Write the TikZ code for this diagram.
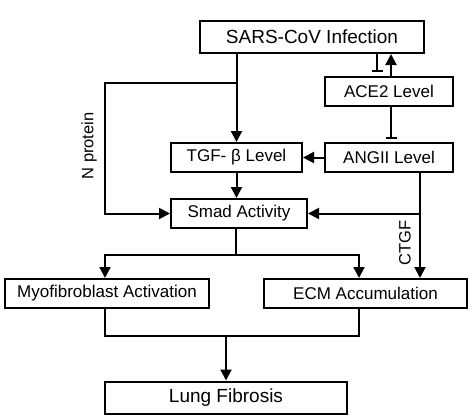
\documentclass[tikz,border=0pt]{standalone}
\usepackage{fontspec}
\setmainfont{Liberation Sans}
\usetikzlibrary{arrows.meta, positioning}

\tikzset{
  box/.style={draw, line width=2pt, rectangle, inner sep=0pt,
    minimum height=29pt, font=\fontsize{17}{20}\selectfont},
  bigbox/.style={box, minimum height=32pt, font=\fontsize{19}{22}\selectfont},
  arr/.style={line width=2pt, -{Triangle[length=11pt,width=11pt]}},
  inh/.style={line width=2pt, -{Bar[width=11pt,line width=2pt]}},
  link/.style={line width=2pt},
  lbl/.style={rotate=90, font=\fontsize{16.5}{19}\selectfont}
}

\begin{document}
\begin{tikzpicture}[x=1pt, y=-1pt]
\useasboundingbox (0,0) rectangle (474,418);
% Boxes
\node[bigbox, minimum width=224pt] (sars) at (312,37) {SARS-CoV Infection};
\node[box, minimum width=128pt] (ace) at (389,91.5) {ACE2 Level};
\node[box, minimum width=128pt] (ang) at (389,157.5) {ANGII Level};
\node[box, minimum width=131pt] (tgf) at (236.5,157.5) {TGF- β Level};
\node[box, minimum width=136pt] (smad) at (239,213.5) {Smad Activity};
\node[box, minimum width=204pt] (myo) at (107,293.5) {Myofibroblast Activation};
\node[box, minimum width=203pt] (ecm) at (365.5,293.5) {ECM Accumulation};
\node[bigbox, minimum width=242pt] (lung) at (226,397.5) {Lung Fibrosis};
% SARS-CoV to TGF-beta
\draw[arr] (sars.south -| tgf.north) -- (tgf.north);
% N protein branch
\coordinate (nsplit) at (236.5,83);
\coordinate (nleft) at (105,83);
\draw[arr] (nsplit) -- (nleft) |- (smad.west);
\node[lbl] (nlabel) at (89,146) {N protein};
% SARS-CoV and ACE2
\coordinate (acebar) at (377,72);
\draw[inh] (sars.south -| acebar) -- (acebar);
\draw[arr] (ace.north -| 391,0) -- (sars.south -| 391,0);
% ACE2 to ANGII
\coordinate (angbar) at (391,139);
\draw[inh] (ace.south -| angbar) -- (angbar);
% ANGII to TGF-beta
\draw[arr] (ang.west) -- (tgf.east);
% TGF-beta to Smad
\draw[arr] (tgf.south) -- (smad.north -| tgf.south);
% ANGII down to ECM, branch to Smad
\coordinate (ctgf) at (420,213.5);
\draw[arr] (ang.south -| ctgf) -- (ecm.north -| ctgf);
\draw[arr] (ctgf) -- (smad.east);
\node[lbl] (clabel) at (405,243) {CTGF};
% Smad to Myofibroblast and ECM
\coordinate (ssplit) at (236,255);
\coordinate (sleft) at (105,255);
\coordinate (sright) at (359,255);
\draw[link] (smad.south -| ssplit) -- (ssplit);
\draw[arr] (ssplit) -- (sleft) -- (myo.north -| sleft);
\draw[arr] (ssplit) -- (sright) -- (ecm.north -| sright);
% Join to Lung Fibrosis
\coordinate (jleft) at (105,336);
\coordinate (jright) at (359,336);
\draw[link] (myo.south -| jleft) -- (jleft) -- (jright) -- (ecm.south -| jright);
\draw[arr] (jleft -| lung.north) -- (lung.north);
\end{tikzpicture}
\end{document}
